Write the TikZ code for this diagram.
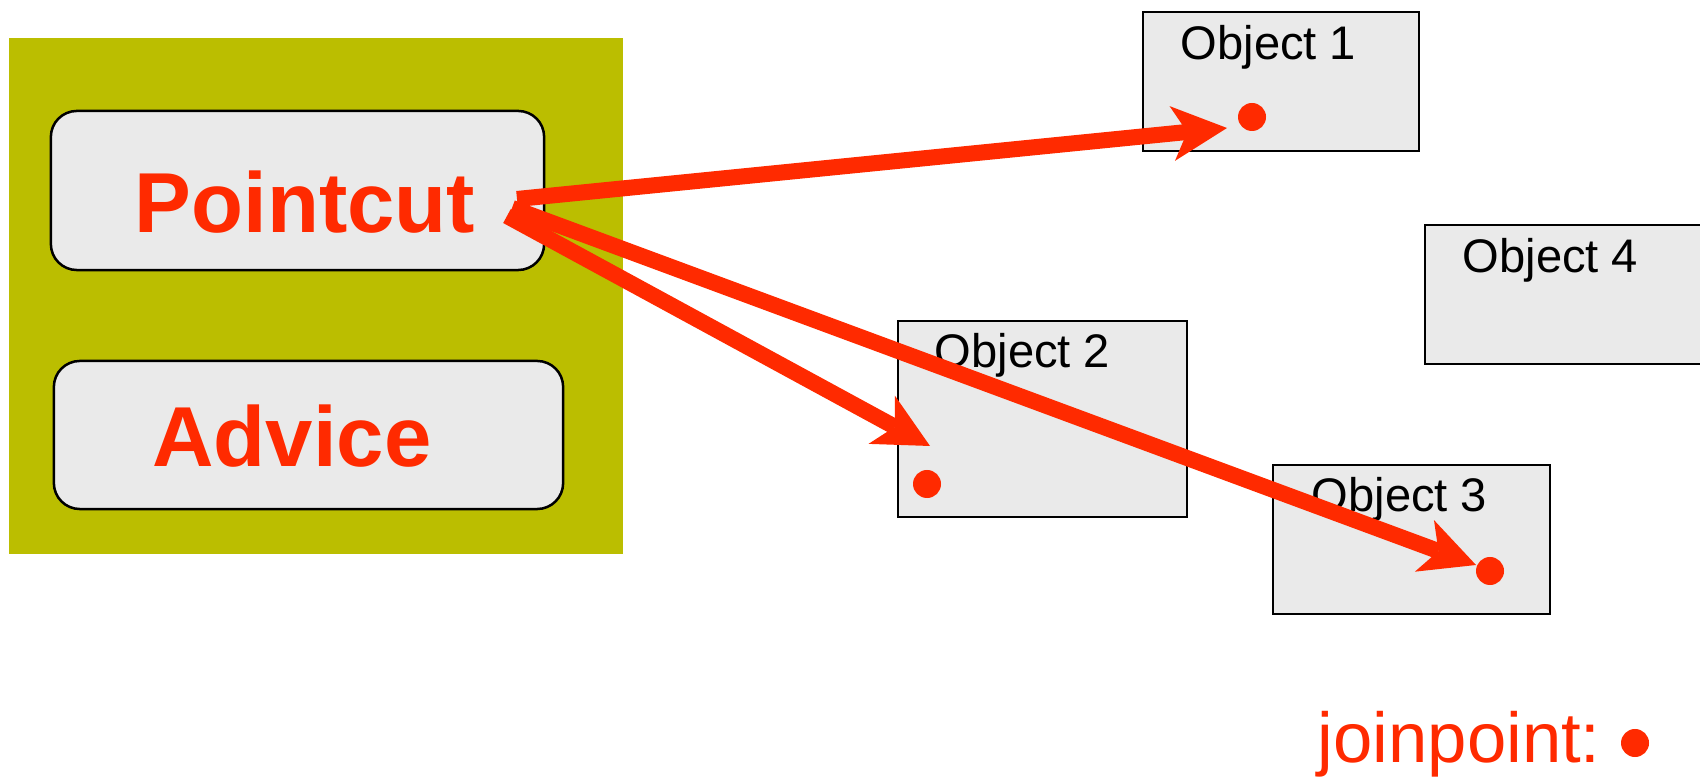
\documentclass[tikz,border=0pt]{standalone}
\usepackage{fontspec}
\setmainfont{Liberation Sans}
\usetikzlibrary{arrows.meta}
\definecolor{aspectolive}{RGB}{187,190,0}
\definecolor{jpred}{RGB}{255,42,0}
\definecolor{boxgray}{RGB}{234,234,234}
\begin{document}
\begin{tikzpicture}[x=0.01cm, y=-0.01cm,
  objbox/.style={draw=black, line width=0.02cm, fill=boxgray, inner sep=0pt},
  partbox/.style={draw=black, line width=0.025cm, fill=boxgray, rounded corners=0.26cm, inner sep=0pt},
  objlabel/.style={anchor=base west, inner sep=0pt, font=\fontsize{13.4}{16}\selectfont},
  partlabel/.style={anchor=base, inner sep=0pt, text=jpred, font=\bfseries\fontsize{24.2}{29}\selectfont},
  jpdot/.style={circle, fill=jpred, minimum size=0.28cm, inner sep=0pt},
  pcarrow/.style={draw=jpred, line width=0.16cm,
    -{Stealth[length=0.55cm, width=0.55cm, inset=0.15cm, line width=0pt]}}]
\useasboundingbox (0,0) rectangle (1700,777);

% aspect container with its two parts
\node[fill=aspectolive, minimum width=6.14cm, minimum height=5.16cm, inner sep=0pt] (aspect) at (316,296) {};
\node[partbox, minimum width=4.93cm, minimum height=1.59cm] (pcbox) at (297.5,190.5) {};
\node[partbox, minimum width=5.09cm, minimum height=1.48cm] (advbox) at (308.5,435) {};
\node[partlabel] (pointcut) at (305,233) {Pointcut};
\node[partlabel] (advice) at (292,467) {Advice};

% objects
\node[objbox, minimum width=2.76cm, minimum height=1.39cm] (obj1) at (1281,81.5) {};
\node[objbox, minimum width=2.89cm, minimum height=1.96cm] (obj2) at (1042.5,419) {};
\node[objbox, minimum width=2.77cm, minimum height=1.49cm] (obj3) at (1411.5,539.5) {};
\node[objbox, minimum width=2.85cm, minimum height=1.39cm] (obj4) at (1567.5,294.5) {};
\node[objlabel] (obj1label) at (1180,60) {Object 1};
\node[objlabel] (obj2label) at (934,368) {Object 2};
\node[objlabel] (obj3label) at (1311,512) {Object 3};
\node[objlabel] (obj4label) at (1462,273) {Object 4};

% join points
\node[jpdot] (jp1) at (1252,117) {};
\node[jpdot] (jp2) at (927,484) {};
\node[jpdot] (jp3) at (1490,571) {};

% legend
\node[anchor=base west, inner sep=0pt, text=jpred, font=\fontsize{20.1}{24}\selectfont] (legend) at (1317,763) {joinpoint:};
\node[jpdot] (legenddot) at (1635,743) {};

% pointcut selects join points
\coordinate (pcA) at (517,199);
\coordinate (pcB) at (507,216);
\coordinate (pcC) at (512,208);
\coordinate (tip1) at (1227,128);
\coordinate (tip2) at (930,446);
\coordinate (tip3) at (1476,565);
\draw[pcarrow] (pcA) -- (tip1);
\draw[pcarrow] (pcB) -- (tip2);
\draw[pcarrow] (pcC) -- (tip3);
\end{tikzpicture}
\end{document}
